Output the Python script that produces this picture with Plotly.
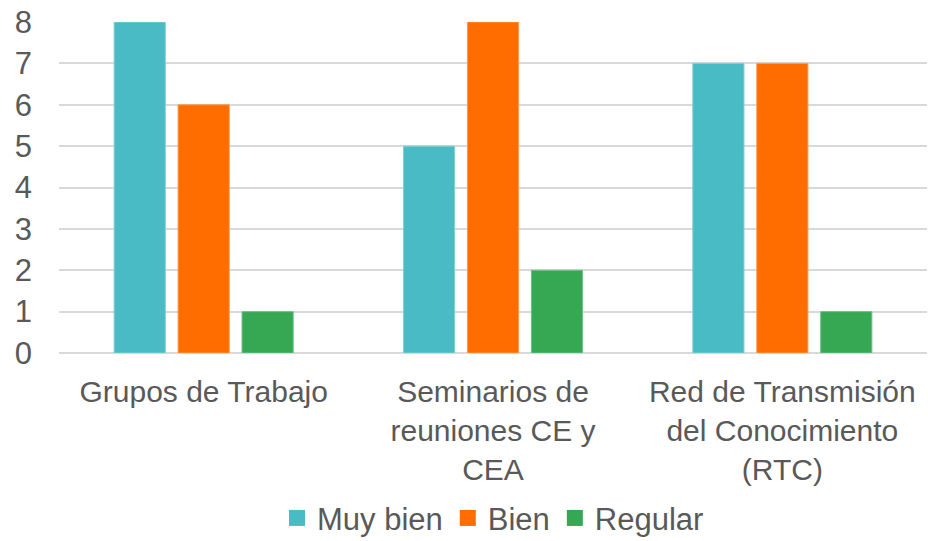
import plotly.graph_objects as go

categories = ["Grupos de Trabajo", "Seminarios de<br>reuniones CE y<br>CEA", "Red de Transmisión<br>del Conocimiento<br>(RTC)"]
muy_bien = [8, 5, 7]
bien = [6, 8, 7]
regular = [1, 2, 1]
series_names = ["Muy bien", "Bien", "Regular"]
colors = ["#48BBC5", "#FF6D00", "#36A853"]
borders = ["#7FD0D6", "#FF9A4D", "#6CC285"]

fig = go.Figure()
for name, vals, c, b in zip(series_names, [muy_bien, bien, regular], colors, borders):
    fig.add_trace(go.Bar(name=name, x=categories, y=vals, showlegend=False,
                         marker=dict(color=c, line=dict(color=b, width=1))))
for name, c in zip(series_names, colors):
    fig.add_trace(go.Scatter(name=name, x=[None], y=[None], mode="markers",
                             marker=dict(symbol="square", size=17, color=c), showlegend=True))

font = dict(family="Liberation Sans, Arial, sans-serif", size=31, color="#595959")
xfont = dict(family="Liberation Sans, Arial, sans-serif", size=30, color="#595959")
fig.update_layout(
    barmode="group", bargap=0.337, bargroupgap=0.2,
    width=928, height=541,
    margin=dict(l=59, r=1, t=22, b=188, autoexpand=False),
    plot_bgcolor="white", paper_bgcolor="white",
    font=font,
    showlegend=True,
    legend=dict(orientation="h", x=0.5, xanchor="center", yref="container", y=0.042, yanchor="middle",
                font=font, itemwidth=30, traceorder="normal", itemsizing="trace"),
    yaxis=dict(range=[0, 8], dtick=1, showgrid=True, gridcolor="#D9D9D9", gridwidth=1.5,
               zeroline=True, zerolinecolor="#D9D9D9", zerolinewidth=1.5, automargin=False,
               ticks="", showline=False, ticklabelstandoff=26, tickfont=font),
    xaxis=dict(showline=False, ticks="", tickfont=xfont, tickangle=0, automargin=False,
               ticklabelstandoff=18),
)
fig.write_html("out.html", config={"displayModeBar": False},
               post_script="document.body.style.margin='0';document.body.style.overflow='hidden';")
